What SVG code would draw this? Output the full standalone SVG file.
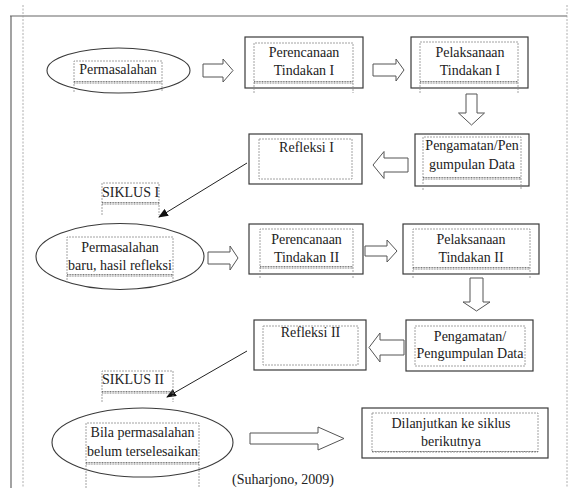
<svg xmlns="http://www.w3.org/2000/svg" width="577" height="488" viewBox="0 0 577 488">
<style>
.box{fill:#fff;stroke:#3a3a3a;stroke-width:1.2}
.ell{fill:#fff;stroke:#3a3a3a;stroke-width:1.1}
.tb{fill:none;stroke:#8a8a8a;stroke-width:0.8;stroke-dasharray:2 1}
.tbl{fill:none;stroke:#555;stroke-width:0.8;stroke-dasharray:1 0.6}
.blk{fill:#fff;stroke:#555;stroke-width:1}
.ln{fill:none;stroke:#222;stroke-width:1}
.frame{fill:none;stroke:#666;stroke-width:1.2}
.guide{fill:none;stroke:#999;stroke-width:0.8;stroke-dasharray:2 1.5}
text{font-family:"Liberation Serif","Times New Roman",serif;font-size:14px;fill:#222;text-anchor:middle}
.l{text-anchor:start}
</style>
<defs>
<marker id="ah" markerWidth="10" markerHeight="8" refX="9" refY="4" orient="auto" markerUnits="userSpaceOnUse">
<path d="M0,0 L10,4 L0,8 Z" fill="#111"/>
</marker>
</defs>
<g id="frame">
<path class="frame" d="M10,16 H567 M11,16 V488"/>
<path class="guide" d="M23,5 V488 M567,5 V488"/>
</g>
<g id="connectors">
<path class="blk" d="M203,64 H223 V59 L233,70.5 L223,82 V77 H203 Z"/>
<path class="blk" d="M373,64 H396 V59 L404,70 L396,81 V76 H373 Z"/>
<path class="blk" d="M466,94 H477 V113 H484.5 L471.5,125 L458.5,113 H466 Z"/>
<path class="blk" d="M408,158 H384 V151.5 L373,165 L384,178.5 V172 H408 Z"/>
<line class="ln" x1="247" y1="163" x2="159" y2="217" marker-end="url(#ah)"/>
<path class="blk" d="M208,252 H230 V246 L238,258 L230,270 V264 H208 Z"/>
<path class="blk" d="M365,246 H387 V240 L397,251 L387,262 V256 H365 Z"/>
<path class="blk" d="M470,278 H483 V302 H490 L476.5,311 L463,302 H470 Z"/>
<path class="blk" d="M404,340 H380 V333 L369,347.5 L380,362 V355 H404 Z"/>
<line class="ln" x1="247" y1="351" x2="167" y2="397" marker-end="url(#ah)"/>
<path class="blk" d="M250,433 H318 V427 L344,438.5 L318,450 V444 H250 Z"/>
</g>
<g id="permasalahan">
<ellipse class="ell" cx="118.5" cy="70.5" rx="71.5" ry="22.5"/>
<path class="tb" d="M74,92 V61 H162 V92"/>
<path class="tbl" d="M74,81.5 H162 M74,83 H162"/>
<text x="118" y="74">Permasalahan</text>
</g>
<g id="perencanaan1">
<rect class="box" x="245" y="37" width="118" height="51"/>
<path class="tb" d="M254,93 V43 H353 V93"/>
<path class="tbl" d="M254,81.5 H353 M254,83 H353"/>
<text x="304" y="57">Perencanaan</text>
<text x="304" y="75">Tindakan I</text>
</g>
<g id="pelaksanaan1">
<rect class="box" x="411" y="37" width="117" height="51"/>
<path class="tb" d="M420,93 V42 H518 V93"/>
<path class="tbl" d="M420,81.5 H518 M420,83 H518"/>
<text x="470" y="56.5">Pelaksanaan</text>
<text x="470" y="74.5">Tindakan I</text>
</g>
<g id="pengamatan1">
<rect class="box" x="415" y="134" width="114" height="52"/>
<path class="tb" d="M423,190 V137 H521 V190"/>
<path class="tbl" d="M423,177.5 H521 M423,179 H521"/>
<text x="472" y="150">Pengamatan/Pen</text>
<text x="472" y="169">gumpulan Data</text>
</g>
<g id="refleksi1">
<rect class="box" x="249" y="134" width="113" height="50"/>
<rect class="tb" x="259" y="139" width="93" height="40"/>
<text x="306.5" y="151.5">Refleksi I</text>
</g>
<g id="siklus1">
<path class="tb" d="M102,215 V183 H159 V215"/>
<path class="tbl" d="M102,202.5 H159 M102,204 H159"/>
<text class="l" x="102" y="197">SIKLUS I</text>
</g>
<g id="permasalahan-baru">
<ellipse class="ell" cx="120" cy="256.5" rx="84" ry="33"/>
<path class="tb" d="M67,283 V237 H173 V283"/>
<path class="tbl" d="M67,274.5 H173 M67,276 H173"/>
<text x="120" y="251.5">Permasalahan</text>
<text x="120" y="269.5">baru, hasil refleksi</text>
</g>
<g id="perencanaan2">
<rect class="box" x="249" y="224" width="114" height="50"/>
<path class="tb" d="M260,278 V229 H353 V278"/>
<path class="tbl" d="M260,266.5 H353 M260,268 H353"/>
<text x="306.5" y="244">Perencanaan</text>
<text x="306.5" y="262">Tindakan II</text>
</g>
<g id="pelaksanaan2">
<rect class="box" x="403" y="224" width="136" height="50"/>
<path class="tb" d="M413,278 V229 H530 V278"/>
<path class="tbl" d="M413,267.5 H530 M413,269 H530"/>
<text x="471" y="244">Pelaksanaan</text>
<text x="471" y="262">Tindakan II</text>
</g>
<g id="pengamatan2">
<rect class="box" x="406" y="320" width="127" height="51"/>
<rect class="tb" x="415" y="326" width="110" height="40"/>
<text x="470" y="340.5">Pengamatan/</text>
<text x="470" y="358">Pengumpulan Data</text>
</g>
<g id="refleksi2">
<rect class="box" x="254" y="320" width="112" height="50"/>
<rect class="tb" x="263" y="326" width="95" height="39"/>
<text x="310.5" y="337">Refleksi II</text>
</g>
<g id="siklus2">
<path class="tb" d="M102,402 V371 H173 V402"/>
<path class="tbl" d="M102,391.5 H173 M102,393 H173"/>
<text class="l" x="102" y="384">SIKLUS II</text>
</g>
<g id="bila">
<ellipse class="ell" cx="142.5" cy="442.5" rx="90.5" ry="34.5"/>
<path class="tb" d="M86,488 V423 H199 V488"/>
<path class="tbl" d="M86,462.5 H199 M86,464 H199"/>
<text x="142.5" y="437">Bila permasalahan</text>
<text x="142.5" y="456">belum terselesaikan</text>
</g>
<g id="dilanjutkan">
<rect class="box" x="362" y="408" width="186" height="50"/>
<rect class="tb" x="372" y="413" width="166" height="39"/>
<path class="tbl" d="M372,451.5 H538"/>
<text x="451" y="428">Dilanjutkan ke siklus</text>
<text x="451" y="446">berikutnya</text>
</g>
<g id="citation">
<text class="l" x="232" y="484">(Suharjono, 2009)</text>
</g>
</svg>
